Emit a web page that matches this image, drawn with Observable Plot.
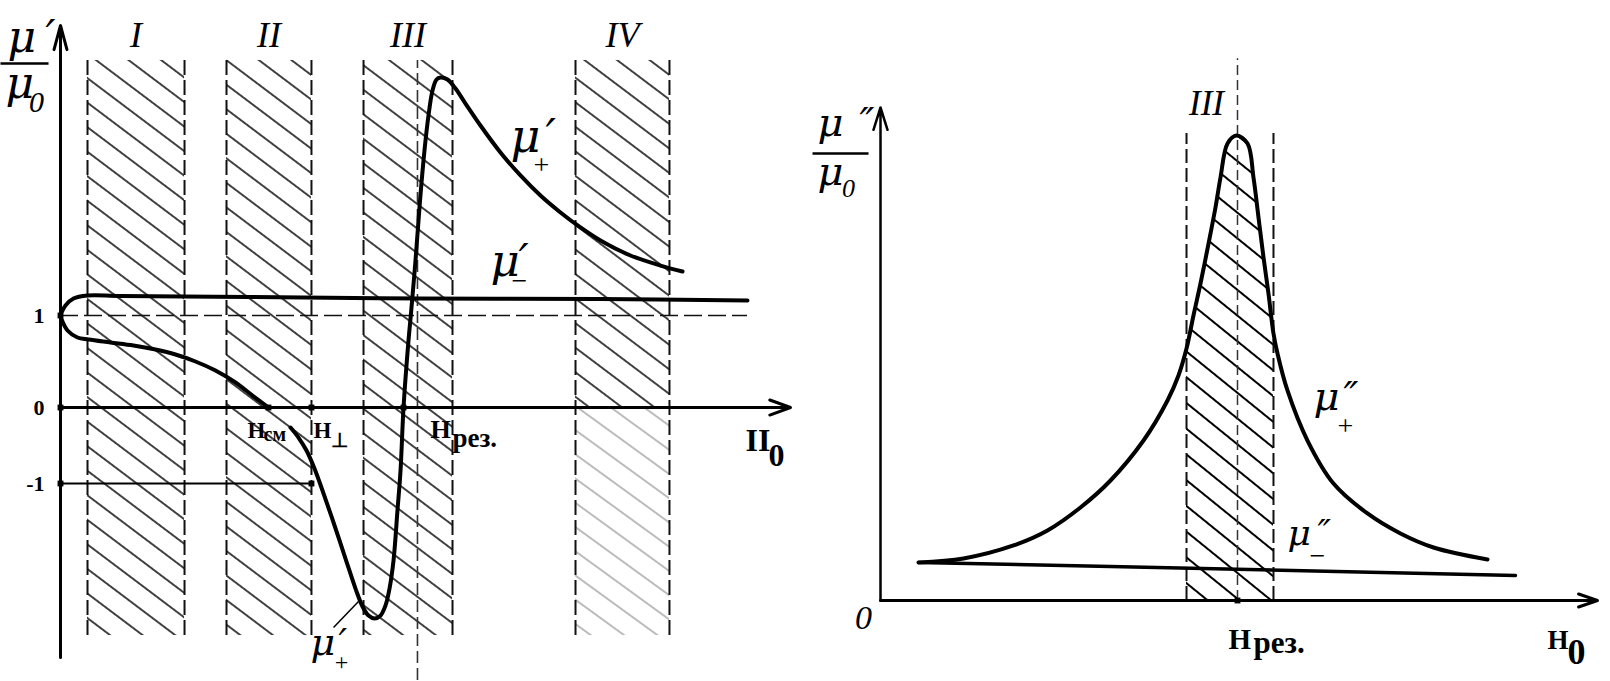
<!DOCTYPE html>
<html><head><meta charset="utf-8">
<script src="https://cdn.jsdelivr.net/npm/d3@7"></script>
<script src="https://cdn.jsdelivr.net/npm/@observablehq/plot@0.6"></script>
<style>
body{margin:0;background:#fff;}
#wrap{position:relative;width:1610px;height:681px;overflow:hidden;background:#fff;}
#wrap svg{position:absolute;top:0;}
</style></head><body><div id="wrap"></div>
<script>
// ================= LEFT PANEL (x: H0, arbitrary units 0..100; y: mu'/mu0) =================
const bandNames = ["I", "II", "III", "IV"];
const bandStart = [3.70, 22.74, 41.51, 70.55];
const bandEnd   = [16.99, 34.38, 53.70, 83.42];
const bandFaintBelowZero = [false, false, false, true];
const bandTop = 3.772, bandBottom = -3.0;
const bandIIIMid = 48.90, bandIIIMidBottom = -3.592;
const yTicks = [1, 0, -1];
const yTickLabels = ["1", "0", "-1"];
const H_cm = 28.49, H_perp = 34.38, H_res = 46.99;
const dashedOneEnd = 94.11;

// mu'_- : starts at (0,1), rounds up and runs to the right
const muMinusX = [0, 0.14, 0.68, 1.78, 3.70, 8.22, 26.03, 49.32, 73.97, 94.11];
const muMinusY = [1.0, 1.033, 1.109, 1.185, 1.217, 1.212, 1.201, 1.185, 1.179, 1.163];
// mu'_+ low-field branch: from (0,1) down to H_cm
const muPlusLowX = [0, 0.27, 0.96, 2.33, 3.84, 6.85, 10.0, 13.01, 15.75, 18.49, 21.23, 23.97, 26.30, 28.49];
const muPlusLowY = [1.0, 0.935, 0.837, 0.761, 0.739, 0.707, 0.674, 0.630, 0.576, 0.500, 0.402, 0.272, 0.130, 0];
// mu'_+ resonance branch
const muPlusX = [31.51, 32.60, 33.70, 34.79, 35.89, 37.40, 39.04, 40.41, 41.37, 42.19, 43.01, 43.84, 44.52, 45.07, 45.62, 46.16, 46.58, 46.99, 47.67, 48.01, 48.63, 49.25, 49.86, 50.41, 50.96, 51.51, 52.05, 53.01, 54.11, 55.48, 57.53, 60.27, 63.01, 65.75, 68.49, 71.23, 73.97, 78.08, 82.19, 85.21];
const muPlusY = [-0.263, -0.395, -0.566, -0.803, -1.092, -1.513, -1.987, -2.382, -2.618, -2.737, -2.776, -2.737, -2.605, -2.382, -2.013, -1.355, -0.829, 0, 0.728, 1.022, 1.598, 2.250, 2.793, 3.174, 3.446, 3.565, 3.587, 3.565, 3.467, 3.304, 3.065, 2.772, 2.522, 2.304, 2.120, 1.957, 1.815, 1.652, 1.543, 1.478];

// ================= RIGHT PANEL (x: H0, units 0..100; y: mu''/mu0, units 0..10) =================
const rBandStart = 42.68, rBandEnd = 54.81, rBandTop = 9.473;
const rResLine = 49.79, rResLineTop = 10.99;
const muPPX = [5.30, 11.58, 18.55, 23.29, 27.89, 32.08, 36.68, 40.03, 41.56, 42.68, 43.65, 44.63, 45.75, 46.72, 47.42, 48.40, 49.65, 51.19, 52.02, 52.72, 53.42, 54.11, 54.81, 55.37, 56.76, 59.55, 63.18, 67.92, 72.52, 77.13, 84.66];
const muPPY = [0.771, 0.852, 1.116, 1.420, 1.886, 2.434, 3.245, 4.057, 4.564, 5.11, 5.781, 6.430, 7.241, 7.972, 8.580, 9.270, 9.432, 9.270, 8.580, 7.769, 6.957, 6.227, 5.416, 5.010, 4.260, 3.245, 2.373, 1.765, 1.359, 1.075, 0.832];
const muPMX = [5.30, 32.08, 88.56];
const muPMY = [0.771, 0.690, 0.507];

// ----- label anchor positions (data units) -----
const L = {
  yNum: [-7.26, 3.859], yDen: [-7.53, 3.359], frac: [-8.22, -1.64, 3.739],
  bandLabelY: 3.913, tickX: -2.19,
  muPlusTop: [61.64, 2.772], muMinus: [58.90, 1.424], muPlusBot: [34.25, -3.25],
  leader: [37.40, -2.895, 40.82, -2.553],
  Hcm: [25.62, -0.395, 27.81, -0.447], Hperp: [34.66, -0.395, 37.12, -0.513],
  Hres: [50.68, -0.395, 53.70, -0.526], H0: [93.84, -0.566, 96.99, -0.763]
};
const R = {
  yNum: [-8.79, 9.432], yDen: [-8.79, 8.418], frac: [-9.48, -1.67, 9.067],
  origin: [-2.37, -0.568], bandLabel: [45.47, 9.838],
  muPlus: [60.39, 3.854], muMinus: [56.76, 1.116],
  Hres: [48.54, -0.974, 52.02, -1.055], H0: [93.03, -0.974, 95.82, -1.278]
};

const serif = "Liberation Serif, Times New Roman, serif";
const muFont = "DejaVu Serif, serif";
const pts = (xs, ys) => xs.map((x, i) => ({x, y: ys[i]}));

function txt(x, y, s, o = {}) {
  return Plot.text([{x, y, s}], {
    x: "x", y: "y", text: "s",
    textAnchor: o.anchor ?? "start", lineAnchor: "bottom",
    fontSize: o.fs ?? 24, fontFamily: o.font ?? serif,
    fontStyle: o.italic ? "italic" : "normal",
    fontWeight: o.bold ? "bold" : "normal",
    dx: o.dx ?? 0, dy: o.dy ?? 0, fill: "black"
  });
}
function muLabel(pos, o) {
  const [x, y] = pos;
  const m = [txt(x, y, "μ", {fs: o.fs, italic: true, font: muFont})];
  if (o.primes) m.push(txt(x, y, o.primes, {fs: o.fs, italic: true, font: muFont, dx: o.pdx}));
  if (o.sub) m.push(txt(x, y, o.sub, {fs: o.sfs ?? 28, italic: !!o.subItalic, anchor: "middle", dx: o.sdx, dy: o.sdy}));
  return m;
}
function addHatch(svg, id, color, sw, spacing, angle) {
  const ns = "http://www.w3.org/2000/svg";
  let defs = svg.querySelector("defs");
  if (!defs) { defs = document.createElementNS(ns, "defs"); svg.insertBefore(defs, svg.firstChild); }
  const p = document.createElementNS(ns, "pattern");
  p.setAttribute("id", id); p.setAttribute("patternUnits", "userSpaceOnUse");
  p.setAttribute("width", 40); p.setAttribute("height", spacing);
  p.setAttribute("patternTransform", `rotate(${angle})`);
  const l = document.createElementNS(ns, "line");
  l.setAttribute("x1", 0); l.setAttribute("x2", 40);
  l.setAttribute("y1", spacing / 2); l.setAttribute("y2", spacing / 2);
  l.setAttribute("stroke", color); l.setAttribute("stroke-width", sw);
  p.appendChild(l); defs.appendChild(p);
}

// ---------- build left ----------
const bands = bandNames.map((name, i) => ({name, start: bandStart[i], end: bandEnd[i], top: bandTop, bottom: bandBottom, faint: bandFaintBelowZero[i], mid: (bandStart[i] + bandEnd[i]) / 2}));
const bandEdges = bands.flatMap(b => [b.start, b.end]);
const branchA = [...pts(muMinusX, muMinusY).reverse(), ...pts(muPlusLowX, muPlusLowY).slice(1)];
const ticks = yTicks.map((v, i) => ({v, s: yTickLabels[i]}));
const dashBand = "15,5";
// the drawing uses a smaller unit below zero than above it
const negUnit = 76 / 92;

const left = Plot.plot({
  width: 800, height: 681,
  x: {domain: [0, 100], range: [60, 790], axis: null},
  y: {domain: [-3.289 * negUnit, 4.152], range: [657, 25], transform: v => (v < 0 ? v * negUnit : v), axis: null},
  marks: [
    Plot.rect(bands, {x1: "start", x2: "end", y1: 0, y2: "top", fill: "url(#hatchL)"}),
    Plot.rect(bands.filter(b => !b.faint), {x1: "start", x2: "end", y1: "bottom", y2: 0, fill: "url(#hatchL)"}),
    Plot.rect(bands.filter(b => b.faint), {x1: "start", x2: "end", y1: "bottom", y2: 0, fill: "url(#hatchLg)"}),
    Plot.ruleX(bandEdges, {x: d => d, y1: bandBottom, y2: bandTop, stroke: "#111", strokeWidth: 2, strokeDasharray: dashBand}),
    Plot.ruleX([bandIIIMid], {x: d => d, y1: bandIIIMidBottom, y2: bandTop, stroke: "#333", strokeWidth: 1.6, strokeDasharray: "12,5"}),
    Plot.ruleY([1], {y: d => d, x1: 0, x2: dashedOneEnd, stroke: "#111", strokeWidth: 1.6, strokeDasharray: "18,6"}),
    Plot.ruleY([-1], {y: d => d, x1: 0, x2: H_perp, stroke: "black", strokeWidth: 2}),
    Plot.arrow([{x1: 0, y1: 0, x2: 100, y2: 0}], {x1: "x1", y1: "y1", x2: "x2", y2: "y2", strokeWidth: 3, headLength: 11, headAngle: 40, stroke: "black"}),
    Plot.arrow([{x1: 0, y1: -3.289, x2: 0, y2: 4.152}], {x1: "x1", y1: "y1", x2: "x2", y2: "y2", strokeWidth: 3, headLength: 12.5, headAngle: 30, stroke: "black"}),
    Plot.line(branchA, {x: "x", y: "y", curve: "catmull-rom", strokeWidth: 4, stroke: "black"}),
    Plot.line(pts(muPlusX, muPlusY), {x: "x", y: "y", curve: "catmull-rom", strokeWidth: 4, stroke: "black"}),
    Plot.link([L.leader], {x1: d => d[0], y1: d => d[1], x2: d => d[2], y2: d => d[3], strokeWidth: 1.5, stroke: "black"}),
    Plot.dot([...yTicks.map(v => ({x: 0, y: v})), {x: H_perp, y: 0}, {x: H_res, y: 0}, {x: H_perp, y: -1}, {x: H_cm, y: 0}],
      {x: "x", y: "y", symbol: "square", r: 3.3, fill: "black"}),
    // tick labels
    Plot.text(ticks, {x: L.tickX, y: "v", text: "s", textAnchor: "end", lineAnchor: "middle", fontSize: 22, fontWeight: "bold", fontFamily: serif}),
    // band labels
    Plot.text(bands, {x: "mid", y: L.bandLabelY, text: "name", textAnchor: "middle", lineAnchor: "bottom", fontSize: 36, fontStyle: "italic", fontFamily: serif}),
    // y label
    ...muLabel(L.yNum, {fs: 44, primes: "′", pdx: 38}),
    ...muLabel(L.yDen, {fs: 44, sub: "0", subItalic: true, sfs: 30, sdx: 31, sdy: 14}),
    Plot.link([L.frac], {x1: d => d[0], x2: d => d[1], y1: d => d[2], y2: d => d[2], strokeWidth: 2.5, stroke: "black"}),
    // curve labels
    ...muLabel(L.muPlusTop, {fs: 46, primes: "′", pdx: 35, sub: "+", sdx: 31, sdy: 22}),
    ...muLabel(L.muMinus, {fs: 45, primes: "′", pdx: 28, sub: "−", sdx: 29, sdy: 14}),
    ...muLabel(L.muPlusBot, {fs: 38, primes: "′", pdx: 28, sub: "+", sfs: 24, sdx: 31, sdy: 15}),
    // field labels
    txt(L.Hcm[0], L.Hcm[1], "H", {fs: 23, bold: true}), txt(L.Hcm[2], L.Hcm[3], "см", {fs: 20, bold: true}),
    txt(L.Hperp[0], L.Hperp[1], "H", {fs: 23, bold: true}), txt(L.Hperp[2], L.Hperp[3], "⊥", {fs: 20, bold: true}),
    txt(L.Hres[0], L.Hres[1], "H", {fs: 26, bold: true}), txt(L.Hres[2], L.Hres[3], "рез.", {fs: 27, bold: true}),
    txt(L.H0[0], L.H0[1], "II", {fs: 32, bold: true}), txt(L.H0[2], L.H0[3], "0", {fs: 32, bold: true})
  ]
});
left.style.left = "0px";
addHatch(left, "hatchL", "#000", 1.3, 19.6, 37);
addHatch(left, "hatchLg", "#777", 1.2, 19.6, 36);

// ---------- build right ----------
const curvePP = pts(muPPX, muPPY);
const underBand = curvePP.filter(d => d.x >= rBandStart && d.x <= rBandEnd);

const right = Plot.plot({
  width: 810, height: 681,
  x: {domain: [0, 100], range: [80, 797], axis: null},
  y: {domain: [0, 10], range: [600, 107], axis: null},
  marks: [
    Plot.areaY(underBand, {x: "x", y1: 0, y2: "y", curve: "catmull-rom", fill: "url(#hatchR)"}),
    Plot.ruleX([rBandStart, rBandEnd], {x: d => d, y1: 0, y2: rBandTop, stroke: "#111", strokeWidth: 2, strokeDasharray: "14,5"}),
    Plot.ruleX([rResLine], {x: d => d, y1: 0, y2: rResLineTop, stroke: "#333", strokeWidth: 1.5, strokeDasharray: "10,5"}),
    Plot.arrow([{x1: 0, y1: 0, x2: 100, y2: 0}], {x1: "x1", y1: "y1", x2: "x2", y2: "y2", strokeWidth: 3, headLength: 10, headAngle: 38, stroke: "black"}),
    Plot.arrow([{x1: 0, y1: 0, x2: 0, y2: 10}], {x1: "x1", y1: "y1", x2: "x2", y2: "y2", strokeWidth: 2.5, headLength: 14, headAngle: 35, stroke: "black"}),
    Plot.line(curvePP, {x: "x", y: "y", curve: "catmull-rom", strokeWidth: 4, stroke: "black"}),
    Plot.line(pts(muPMX, muPMY), {x: "x", y: "y", curve: "linear", strokeWidth: 3.5, stroke: "black"}),
    Plot.dot([{x: rResLine, y: 0}], {x: "x", y: "y", symbol: "square", r: 3.3, fill: "black"}),
    txt(R.origin[0], R.origin[1], "0", {fs: 34, italic: true, anchor: "middle"}),
    txt(R.bandLabel[0], R.bandLabel[1], "III", {fs: 35, italic: true, anchor: "middle"}),
    ...muLabel(R.yNum, {fs: 40, primes: "″", pdx: 42}),
    ...muLabel(R.yDen, {fs: 40, sub: "0", subItalic: true, sfs: 26, sdx: 31, sdy: 12}),
    Plot.link([R.frac], {x1: d => d[0], x2: d => d[1], y1: d => d[2], y2: d => d[2], strokeWidth: 2.5, stroke: "black"}),
    ...muLabel(R.muPlus, {fs: 40, primes: "″", pdx: 30, sub: "+", sdx: 32, sdy: 25}),
    ...muLabel(R.muMinus, {fs: 36, primes: "″", pdx: 30, sub: "−", sdx: 30, sdy: 20}),
    txt(R.Hres[0], R.Hres[1], "H", {fs: 29, bold: true}), txt(R.Hres[2], R.Hres[3], "рез.", {fs: 31, bold: true}),
    txt(R.H0[0], R.H0[1], "H", {fs: 27, bold: true}), txt(R.H0[2], R.H0[3], "0", {fs: 36, bold: true})
  ]
});
right.style.left = "800px";
addHatch(right, "hatchR", "#000", 1.8, 20, 39);

document.getElementById("wrap").append(left, right);
</script>
</body></html>
